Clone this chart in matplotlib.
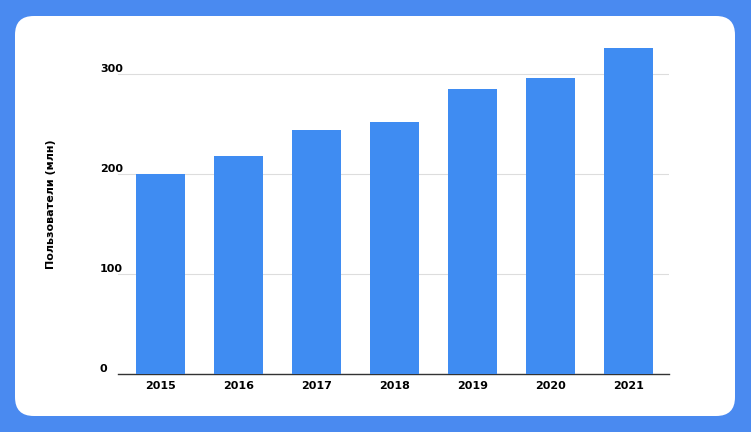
import matplotlib.pyplot as plt
from matplotlib.patches import FancyBboxPatch

years = ["2015", "2016", "2017", "2018", "2019", "2020", "2021"]
users = [200, 218, 244, 252, 285, 296, 326]
yticks = [0, 100, 200, 300]

fig = plt.figure(figsize=(7.51, 4.32), dpi=100)
fig.patch.set_facecolor("#4a8af0")

card = FancyBboxPatch((15 / 751, 16 / 432), 720 / 751, 400 / 432,
                      boxstyle="round,pad=0,rounding_size=0.025",
                      transform=fig.transFigure, facecolor="white",
                      edgecolor="none", mutation_aspect=751 / 432, zorder=-10)
fig.add_artist(card)

ax = fig.add_axes([118 / 751, 1 - 374 / 432, 551 / 751, 340 / 432])
ax.set_facecolor("none")
x = range(len(years))
ax.bar(x, users, width=0.63, color="#3f8cf2", zorder=3)
ax.set_xlim(-0.545, 6.52)
ax.set_ylim(0, 340)

ax.set_yticks(yticks)
ax.set_yticklabels([str(v) for v in yticks], fontsize=8, fontweight="bold")
for lab in ax.get_yticklabels():
    lab.set_va("bottom")
    lab.set_ha("left")
ax.tick_params(axis="y", length=0, pad=13)
ax.set_xticks(list(x))
ax.set_xticklabels(years, fontsize=8, fontweight="bold")
ax.tick_params(axis="x", length=0, pad=5)

ax.grid(axis="y", color="#dddddd", linewidth=0.8, zorder=0)
for s in ["top", "right", "left"]:
    ax.spines[s].set_visible(False)
ax.spines["bottom"].set_color("#333333")
ax.spines["bottom"].set_linewidth(1.0)

ax.set_ylabel("Пользователи (млн)", fontsize=8, fontweight="bold", labelpad=32)

fig.savefig("out.png", dpi=100, facecolor=fig.get_facecolor())
